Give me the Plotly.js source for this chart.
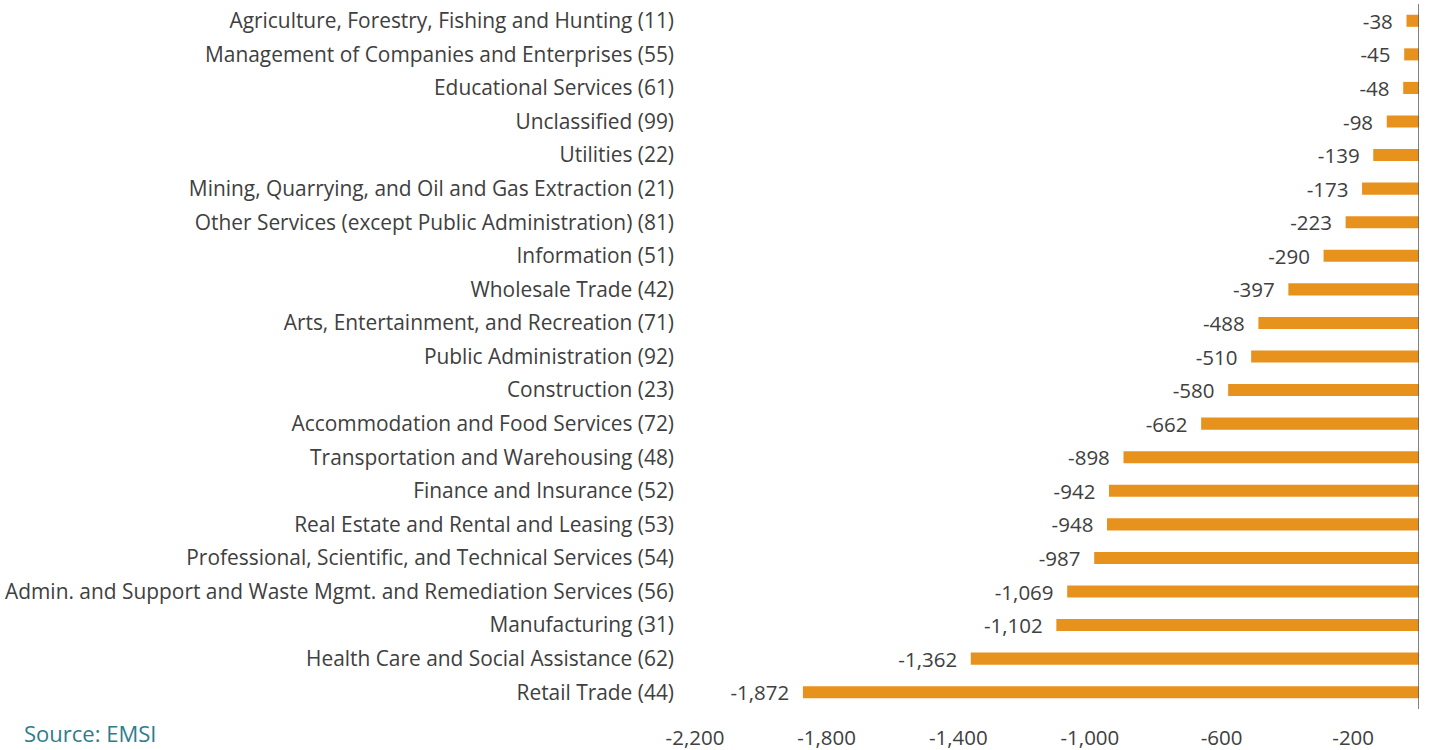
<!DOCTYPE html>
<html>
<head>
<meta charset="utf-8">
<script src="https://cdn.plot.ly/plotly-3.0.1.min.js"></script>
<style>html,body{margin:0;padding:0;background:#fff;}#chart{width:1429px;height:750px;}</style>
</head>
<body>
<div id="chart"></div>
<script>
const categories = [
  "Agriculture, Forestry, Fishing and Hunting (11)",
  "Management of Companies and Enterprises (55)",
  "Educational Services (61)",
  "Unclassified (99)",
  "Utilities (22)",
  "Mining, Quarrying, and Oil and Gas Extraction (21)",
  "Other Services (except Public Administration) (81)",
  "Information (51)",
  "Wholesale Trade (42)",
  "Arts, Entertainment, and Recreation (71)",
  "Public Administration (92)",
  "Construction (23)",
  "Accommodation and Food Services (72)",
  "Transportation and Warehousing (48)",
  "Finance and Insurance (52)",
  "Real Estate and Rental and Leasing (53)",
  "Professional, Scientific, and Technical Services (54)",
  "Admin. and Support and Waste Mgmt. and Remediation Services (56)",
  "Manufacturing (31)",
  "Health Care and Social Assistance (62)",
  "Retail Trade (44)"
];
const values = [-38, -45, -48, -98, -139, -173, -223, -290, -397, -488, -510, -580, -662, -898, -942, -948, -987, -1069, -1102, -1362, -1872];
const tickValues = [-2200, -1800, -1400, -1000, -600, -200];
const tickLabels = ["-2,200", "-1,800", "-1,400", "-1,000", "-600", "-200"];

const fontFam = "'Open Sans', Lato, sans-serif";
const trace = {
  type: 'bar',
  orientation: 'h',
  y: categories,
  x: values,
  marker: {color: '#E8921E'},
  text: values.map(v => v.toLocaleString('en-US') + '\u00a0\u00a0'),
  textposition: 'outside',
  constraintext: 'none',
  textfont: {family: fontFam, size: 20.5, color: '#404040'},
  cliponaxis: false,
  hoverinfo: 'x+y'
};
const layout = {
  width: 1429, height: 750,
  margin: {l: 695, r: 10, t: 4, b: 41},
  paper_bgcolor: '#fff', plot_bgcolor: '#fff',
  bargap: 0.64,
  showlegend: false,
  font: {family: fontFam, size: 20, color: '#404040'},
  xaxis: {
    range: [-2200, 0],
    tickvals: tickValues, ticktext: tickLabels,
    showgrid: false, zeroline: false, showline: false,
    ticks: '', ticklabelstandoff: 14,
    tickfont: {family: fontFam, size: 20.5, color: '#404040'}
  },
  yaxis: {
    autorange: 'reversed',
    showgrid: false, zeroline: false, showline: false,
    ticks: '', ticklabelstandoff: 20,
    tickfont: {family: fontFam, size: 20.9, color: '#404040'}
  },
  shapes: [{type: 'line', xref: 'x', yref: 'paper', x0: 0, x1: 0, y0: 0, y1: 1, line: {color: '#595959', width: 1.5}}],
  annotations: [{
    text: 'Source: EMSI', xref: 'paper', yref: 'paper', x: (22 - 695) / 724, y: 0, xanchor: 'left', yanchor: 'top',
    yshift: -7, showarrow: false, font: {family: fontFam, size: 22, color: '#2E7D8C'}
  }]
};
Plotly.newPlot('chart', [trace], layout, {displayModeBar: false, staticPlot: true});
</script>
</body>
</html>
